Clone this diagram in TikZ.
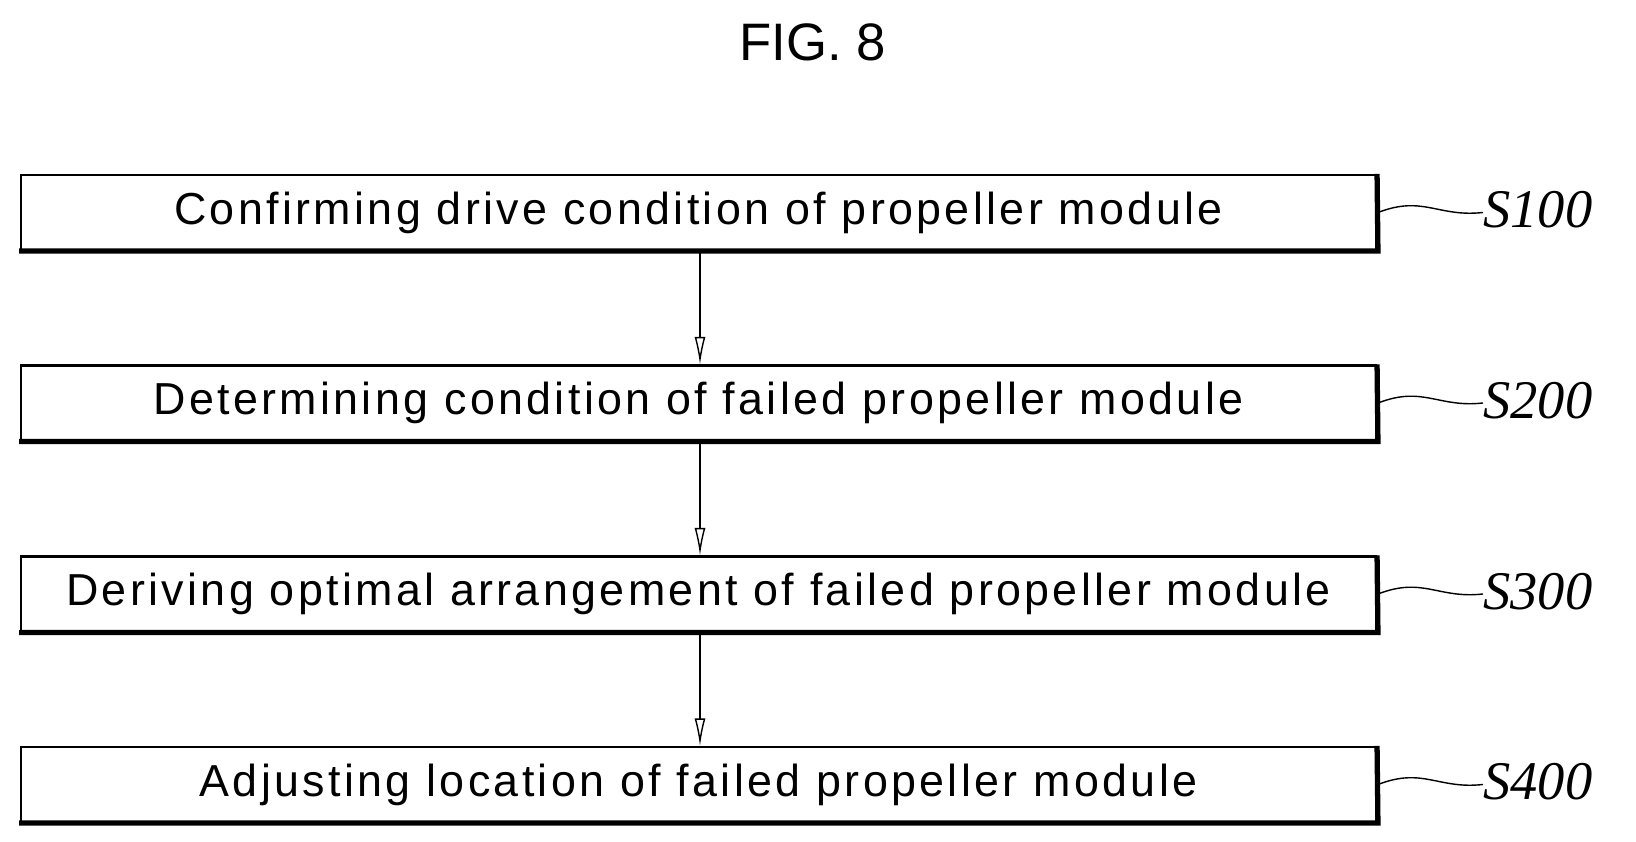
\documentclass[tikz,border=0pt]{standalone}
\usepackage{fontspec}
\setmainfont{Liberation Sans}
\newfontfamily\boxfont[LetterSpace=7.5]{Liberation Sans}
\newfontfamily\labfont{Liberation Serif}
\usetikzlibrary{arrows.meta}
\begin{document}
\begin{tikzpicture}[
  box/.style={draw, line width=1.2pt, minimum width=27.1cm, minimum height=1.5cm, inner sep=0pt, font=\boxfont\fontsize{25.5}{30}\selectfont},
  lab/.style={anchor=west, font=\labfont\itshape\fontsize{31}{36}\selectfont, inner sep=0pt},
  arr/.style={-{Latex[length=0.55cm,width=0.22cm,open]}, line width=0.8pt},
  wave/.style={line width=0.8pt}
]
\useasboundingbox (0,0) rectangle (32.72,16.84);
\node[font=\fontsize{30}{36}\selectfont] (title) at (16.25,16.0) {FIG. 8};
\foreach \n/\y/\t/\s in {a/12.59/Confirming drive condition of propeller module/S100,
  b/8.78/Determining condition of failed propeller module/S200,
  c/4.96/Deriving optimal arrangement of failed propeller module/S300,
  d/1.15/Adjusting location of failed propeller module/S400}{
  \node[box] (\n) at (13.97,\y) {\t};
  \draw[line width=3pt] ([xshift=-0.5pt]\n.south west) -- ([xshift=0.5pt]\n.south east) -- (\n.north east);
  \node[lab] (l\n) at (29.66,\y+0.05) {\s};
  \coordinate (w\n) at ([xshift=0.02cm]\n.east);
  \draw[wave] (w\n) .. controls ++(0.9,0.35) and ++(-0.9,-0.1) .. ([yshift=-0.05cm]l\n.west);
}
\draw[arr] (14.0,0 |- a.south) -- (14.0,0 |- b.north);
\draw[arr] (14.0,0 |- b.south) -- (14.0,0 |- c.north);
\draw[arr] (14.0,0 |- c.south) -- (14.0,0 |- d.north);
\end{tikzpicture}
\end{document}
